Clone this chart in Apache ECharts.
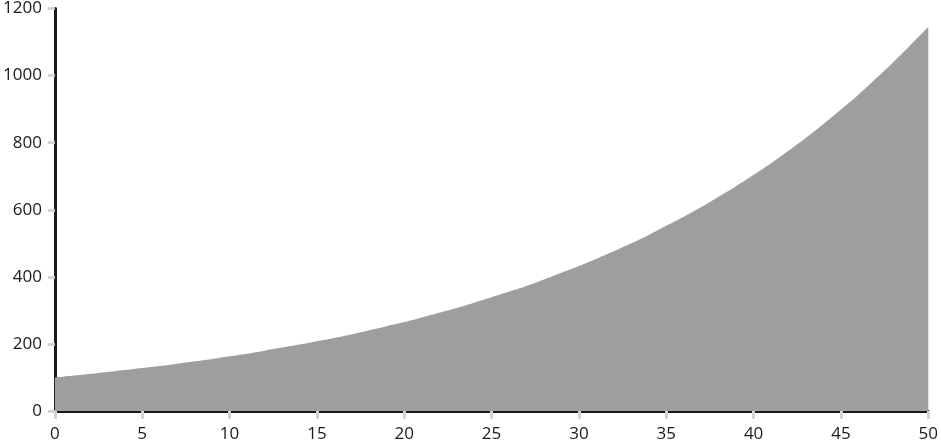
<!DOCTYPE html>
<html><head><meta charset="utf-8">
<script src="https://cdn.jsdelivr.net/npm/echarts@6/dist/echarts.min.js"></script>
<style>html,body{margin:0;padding:0;background:#fff}#c{width:941px;height:443px}</style>
</head><body><div id="c"></div>
<script>
const xValues = [0,1,2,3,4,5,6,7,8,9,10,11,12,13,14,15,16,17,18,19,20,21,22,23,24,25,26,27,28,29,30,31,32,33,34,35,36,37,38,39,40,41,42,43,44,45,46,47,48,49,50];
const yValues = [100,105,110,116,122,128,134,141,148,155,163,171,180,189,198,208,218,229,241,253,265,279,293,307,323,339,356,373,392,412,432,454,476,500,525,552,579,608,639,670,704,739,776,815,856,899,943,991,1040,1092,1145];
const xTicks = {min:0, max:50, interval:5};
const yTicks = {min:0, max:1200, interval:200};

const font = "'Open Sans', sans-serif";
const chart = echarts.init(document.getElementById('c'), null, {renderer:'canvas'});
chart.setOption({
  animation:false,
  grid:{left:51, right:10, top:8, bottom:31, containLabel:false},
  xAxis:{type:'value', min:xTicks.min, max:xTicks.max, interval:xTicks.interval,
    axisLine:{show:true, lineStyle:{color:'#1a1a1a', width:3}},
    axisTick:{show:true, length:8, lineStyle:{color:'#d4d4d4', width:3}},
    axisLabel:{color:'#1a1a1a', fontSize:17, fontFamily:font, margin:15, formatter:v=>String(v)},
    splitLine:{show:false}},
  yAxis:{type:'value', min:yTicks.min, max:yTicks.max, interval:yTicks.interval,
    axisLine:{show:true, lineStyle:{color:'#1a1a1a', width:3}},
    axisTick:{show:true, length:7, lineStyle:{color:'#d4d4d4', width:3}},
    axisLabel:{color:'#1a1a1a', fontSize:17, fontFamily:font, margin:13, formatter:v=>String(v)},
    splitLine:{show:false}},
  series:[{type:'line', data:xValues.map((x,i)=>[x,yValues[i]]), smooth:true,
    showSymbol:false, lineStyle:{width:0}, areaStyle:{color:'#9e9e9e', opacity:1}, z:1}]
});
</script></body></html>
